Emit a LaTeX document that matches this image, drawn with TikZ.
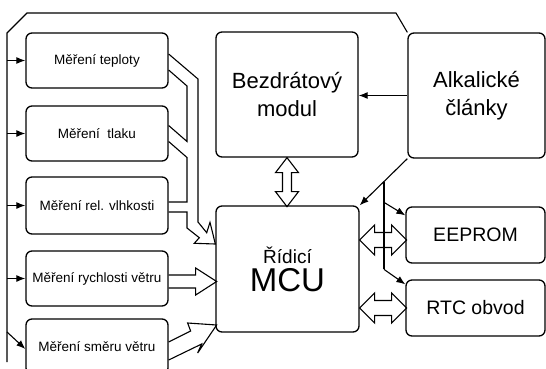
\documentclass[tikz,border=0pt]{standalone}
\usepackage{fontspec}
\setmainfont{Liberation Sans}
\usetikzlibrary{calc,arrows.meta}
\begin{document}
\begin{tikzpicture}[x=1pt,y=-1pt,
  box/.style={draw, line width=1.3pt, rounded corners=6pt, inner sep=0pt, align=center},
  sensor/.style={box, minimum width=142pt, minimum height=55pt, font=\fontsize{13.5}{16}\selectfont},
  big/.style={box, font=\fontsize{22}{28}\selectfont},
  line/.style={line width=1.1pt},
  arr/.style={line, -{Latex[length=9pt,width=7pt]}},
  hollow/.style={line width=1.1pt, line join=miter}]
\useasboundingbox (0,0) rectangle (546,368);
\fill[white] (0,0) rectangle (546,368);
\clip (0,0) rectangle (546,368);

% sensor boxes
\node[sensor] (s1) at (97,60.5) {Měření teploty};
\node[sensor] (s2) at (97,133.5) {Měření \ tlaku};
\node[sensor, minimum height=57pt] (s3) at (97,205.5) {Měření rel. vlhkosti};
\node[sensor] (s4) at (97,278.5) {Měření rychlosti větru};
\node[sensor] (s5) at (97,346.5) {Měření směru větru};

% main boxes
\node[big, minimum width=142pt, minimum height=125pt] (bez) at (287,94.5) {Bezdrátový\\modul};
\node[big, minimum width=137pt, minimum height=125pt] (alk) at (476.5,95.5) {Alkalické\\články};
\node[box, minimum width=143pt, minimum height=126pt] (mcu) at (287.5,269)
  {\fontsize{19}{22}\selectfont Řídicí\\[4pt]\fontsize{33}{38}\selectfont MCU};
\node[box, minimum width=139pt, minimum height=56pt, font=\fontsize{19.5}{23}\selectfont] (eep) at (475.5,235) {EEPROM};
\node[box, minimum width=139pt, minimum height=56pt, font=\fontsize{19.5}{23}\selectfont] (rtc) at (475.5,308) {RTC obvod};

% power bus
\coordinate (bl) at (7,0);
\coordinate (bTR) at (396,13);
\coordinate (bTL) at (27,13);
\coordinate (bC) at (7,33);
\coordinate (bB) at (7,362);
\draw[line] (alk.north west) -- (bTR) -- (bTL) -- (bC) -- (bB);
\foreach \s in {s1,s2,s3,s4} \draw[arr] (\s.west -| bl) -- (\s.west);
\draw[arr] ($(s5.west -| bl)+(0,-14.5)$) -- ($(s5.west)+(0,2.5)$);

% battery feeds
\draw[arr] (alk.west) -- (alk.west -| bez.east);
\draw[arr] (alk.south west) -- (mcu.north east);
\coordinate (tap) at ($(alk.south west)!0.49!(mcu.north east)$);
\coordinate (tapE) at ($(tap |- eep.north)+(0,-4)$);
\coordinate (tapR) at ($(tap |- rtc.north)+(0,-10)$);
\draw[line] (tap) -- (tapR);
\draw[arr] (tapE) -- ($(eep.north west)+(0,9)$);
\draw[arr] (tapR) -- ($(rtc.north west)+(0,5)$);

% hollow double arrows
\draw[hollow] (bez.south) -- ++(11.5,15) -- ++(-7,0) -- ++(0,19) -- ++(7,0) -- ++(-11.5,15)
  -- ++(-11.5,-15) -- ++(7,0) -- ++(0,-19) -- ++(-7,0) -- cycle;
\foreach \t/\dy in {eep/5,rtc/0}
  \draw[hollow] ($(mcu.east |- \t.west)+(0,\dy)$) -- ++(15,-15) -- ++(0,7.5) -- ++(17,0) -- ++(0,-7.5)
    -- ++(15,15) -- ++(-15,15) -- ++(0,-7.5) -- ++(-17,0) -- ++(0,7.5) -- cycle;

% hollow channel arrow from sensors 1-3
\draw[hollow] ($(s1.east)+(0,-6.5)$) -- (198,79) -- (198,222) -- (206.7,232.7) -- (210,222.3)
  -- ($(mcu.west |- 0,244)$) -- (194.3,243.3) -- (199.3,237.7) -- (187,228) -- (187,212) -- ($(s3.east)+(0,6.5)$);
\draw[hollow] ($(s1.east)+(0,9.5)$) -- (187,86) -- (187,141.5) -- ($(s2.east)+(0,-8)$);
\draw[hollow] ($(s2.east)+(0,8)$) -- (187,157.5) -- (187,202) -- ($(s3.east)+(0,-3.5)$);

% hollow arrow from sensor 4
\draw[hollow] ($(s4.east)+(0,-3.5)$) -- ++(27,0) -- ++(0,-7) -- ++(21,13.5) -- ++(-21,13.5) -- ++(0,-7) -- ++(-27,0);

% hollow arrow from sensor 5
\draw[hollow] ($(s5.east)+(0,-4.5)$) -- ($(s5.east)+(22,-15.5)$) -- ($(s5.east)+(19,-23.5)$)
  -- ($(s5.east)+(48,-21.5)$) -- ($(s5.east)+(29,6.5)$) -- ($(s5.east)+(33,-2.5)$) -- ($(s5.east)+(0,13.5)$);
\end{tikzpicture}
\end{document}
